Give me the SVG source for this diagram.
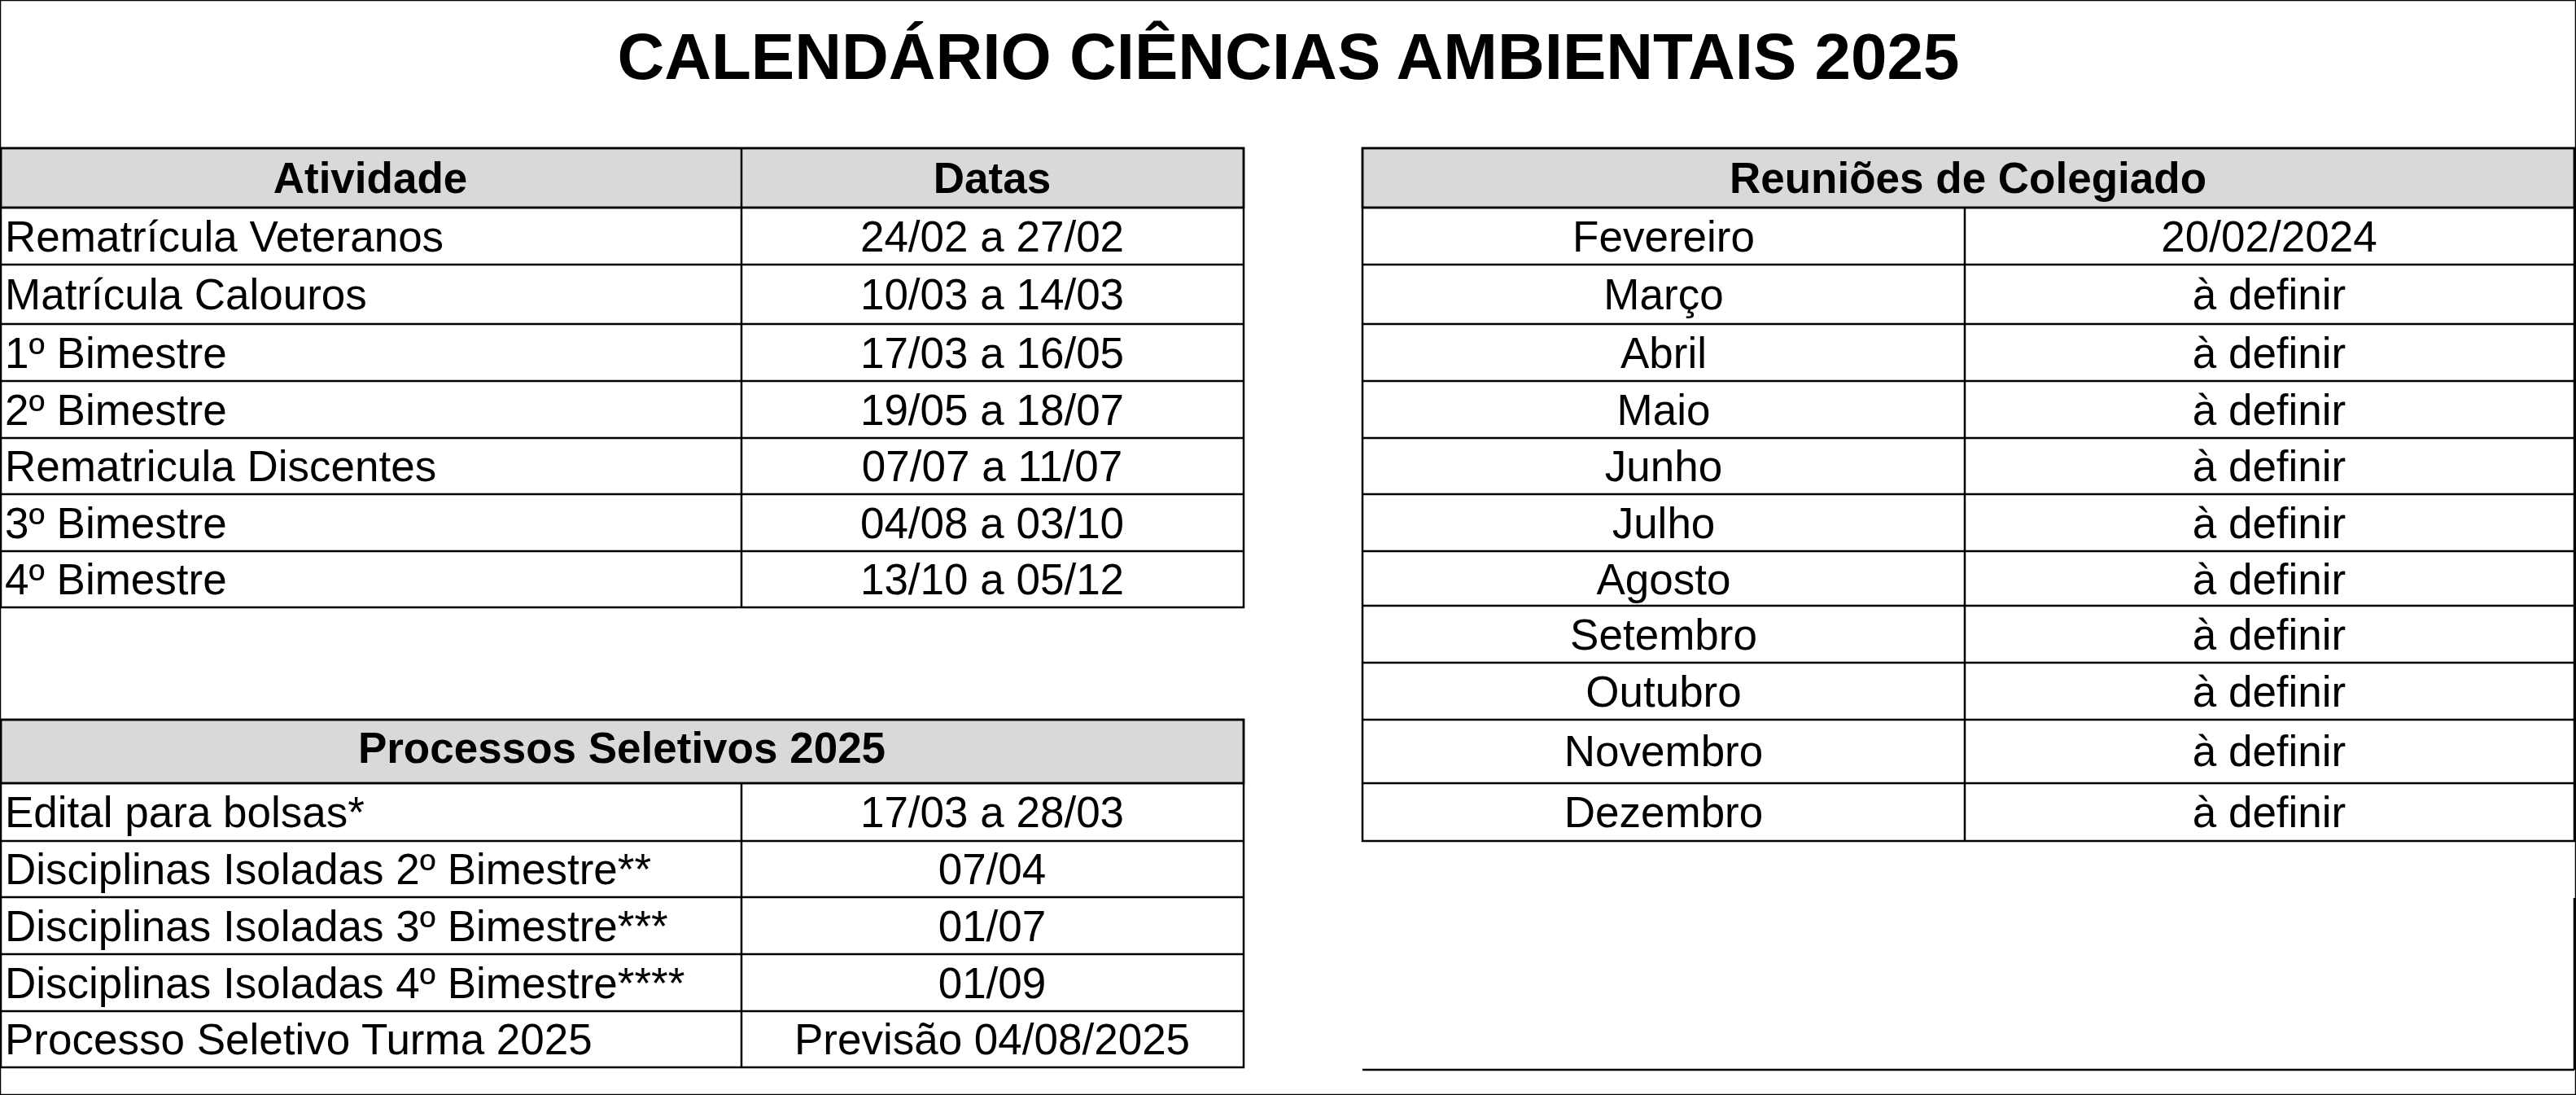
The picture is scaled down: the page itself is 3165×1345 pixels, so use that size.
<svg xmlns="http://www.w3.org/2000/svg" width="3165" height="1345" viewBox="0 0 3165 1345">
<style>
text{font-family:"Liberation Sans",Arial,sans-serif;font-size:53px;fill:#000}
.b{font-weight:bold}
.t{font-size:80px;font-weight:bold}
.c{text-anchor:middle}
.h{fill:#d9d9d9}
line,rect{stroke:#000;stroke-width:2.5}
rect{fill:none}
</style>
<rect width="3165" height="1345" fill="#fff" stroke="none"/>
<text class="t c" x="1583" y="97">CALENDÁRIO CIÊNCIAS AMBIENTAIS 2025</text>
<g id="atividades">
<rect class="h" x="1" y="182" width="1527" height="73"/>
<rect x="1" y="182" width="1527" height="564"/>
<line x1="911" y1="182" x2="911" y2="746"/>
<line x1="1" y1="255" x2="1528" y2="255"/><line x1="1" y1="325" x2="1528" y2="325"/><line x1="1" y1="398" x2="1528" y2="398"/><line x1="1" y1="468" x2="1528" y2="468"/><line x1="1" y1="538" x2="1528" y2="538"/><line x1="1" y1="607" x2="1528" y2="607"/><line x1="1" y1="677" x2="1528" y2="677"/>
<text class="b c" x="455" y="237">Atividade</text><text class="b c" x="1219" y="237">Datas</text>
<text x="6" y="309">Rematrícula Veteranos</text><text class="c" x="1219" y="309">24/02 a 27/02</text>
<text x="6" y="380">Matrícula Calouros</text><text class="c" x="1219" y="380">10/03 a 14/03</text>
<text x="6" y="452">1º Bimestre</text><text class="c" x="1219" y="452">17/03 a 16/05</text>
<text x="6" y="522">2º Bimestre</text><text class="c" x="1219" y="522">19/05 a 18/07</text>
<text x="6" y="591">Rematricula Discentes</text><text class="c" x="1219" y="591">07/07 a 11/07</text>
<text x="6" y="661">3º Bimestre</text><text class="c" x="1219" y="661">04/08 a 03/10</text>
<text x="6" y="730">4º Bimestre</text><text class="c" x="1219" y="730">13/10 a 05/12</text>
</g>
<g id="processos">
<rect class="h" x="1" y="884" width="1527" height="78"/>
<rect x="1" y="884" width="1527" height="427"/>
<line x1="911" y1="962" x2="911" y2="1311"/>
<line x1="1" y1="962" x2="1528" y2="962"/><line x1="1" y1="1033" x2="1528" y2="1033"/><line x1="1" y1="1102" x2="1528" y2="1102"/><line x1="1" y1="1172" x2="1528" y2="1172"/><line x1="1" y1="1242" x2="1528" y2="1242"/>
<text class="b c" x="764" y="937">Processos Seletivos 2025</text>
<text x="6" y="1016">Edital para bolsas*</text><text class="c" x="1219" y="1016">17/03 a 28/03</text>
<text x="6" y="1086">Disciplinas Isoladas 2º Bimestre**</text><text class="c" x="1219" y="1086">07/04</text>
<text x="6" y="1156">Disciplinas Isoladas 3º Bimestre***</text><text class="c" x="1219" y="1156">01/07</text>
<text x="6" y="1226">Disciplinas Isoladas 4º Bimestre****</text><text class="c" x="1219" y="1226">01/09</text>
<text x="6" y="1295">Processo Seletivo Turma 2025</text><text class="c" x="1219" y="1295">Previsão 04/08/2025</text>
</g>
<g id="reunioes">
<rect class="h" x="1674" y="182" width="1489" height="73"/>
<rect x="1674" y="182" width="1489" height="851"/>
<line x1="2414" y1="255" x2="2414" y2="1033"/>
<line x1="1674" y1="255" x2="3163" y2="255"/><line x1="1674" y1="325" x2="3163" y2="325"/><line x1="1674" y1="398" x2="3163" y2="398"/><line x1="1674" y1="468" x2="3163" y2="468"/><line x1="1674" y1="538" x2="3163" y2="538"/><line x1="1674" y1="607" x2="3163" y2="607"/><line x1="1674" y1="677" x2="3163" y2="677"/><line x1="1674" y1="744" x2="3163" y2="744"/><line x1="1674" y1="814" x2="3163" y2="814"/><line x1="1674" y1="884" x2="3163" y2="884"/><line x1="1674" y1="962" x2="3163" y2="962"/>
<text class="b c" x="2418" y="237">Reuniões de Colegiado</text>
<text class="c" x="2044" y="309">Fevereiro</text><text class="c" x="2788" y="309">20/02/2024</text>
<text class="c" x="2044" y="380">Março</text><text class="c" x="2788" y="380">à definir</text>
<text class="c" x="2044" y="452">Abril</text><text class="c" x="2788" y="452">à definir</text>
<text class="c" x="2044" y="522">Maio</text><text class="c" x="2788" y="522">à definir</text>
<text class="c" x="2044" y="591">Junho</text><text class="c" x="2788" y="591">à definir</text>
<text class="c" x="2044" y="661">Julho</text><text class="c" x="2788" y="661">à definir</text>
<text class="c" x="2044" y="730">Agosto</text><text class="c" x="2788" y="730">à definir</text>
<text class="c" x="2044" y="798">Setembro</text><text class="c" x="2788" y="798">à definir</text>
<text class="c" x="2044" y="868">Outubro</text><text class="c" x="2788" y="868">à definir</text>
<text class="c" x="2044" y="941">Novembro</text><text class="c" x="2788" y="941">à definir</text>
<text class="c" x="2044" y="1016">Dezembro</text><text class="c" x="2788" y="1016">à definir</text>
<line x1="1674" y1="1314" x2="3163" y2="1314"/><line x1="3163" y1="1103" x2="3163" y2="1314"/>
</g>
</svg>
